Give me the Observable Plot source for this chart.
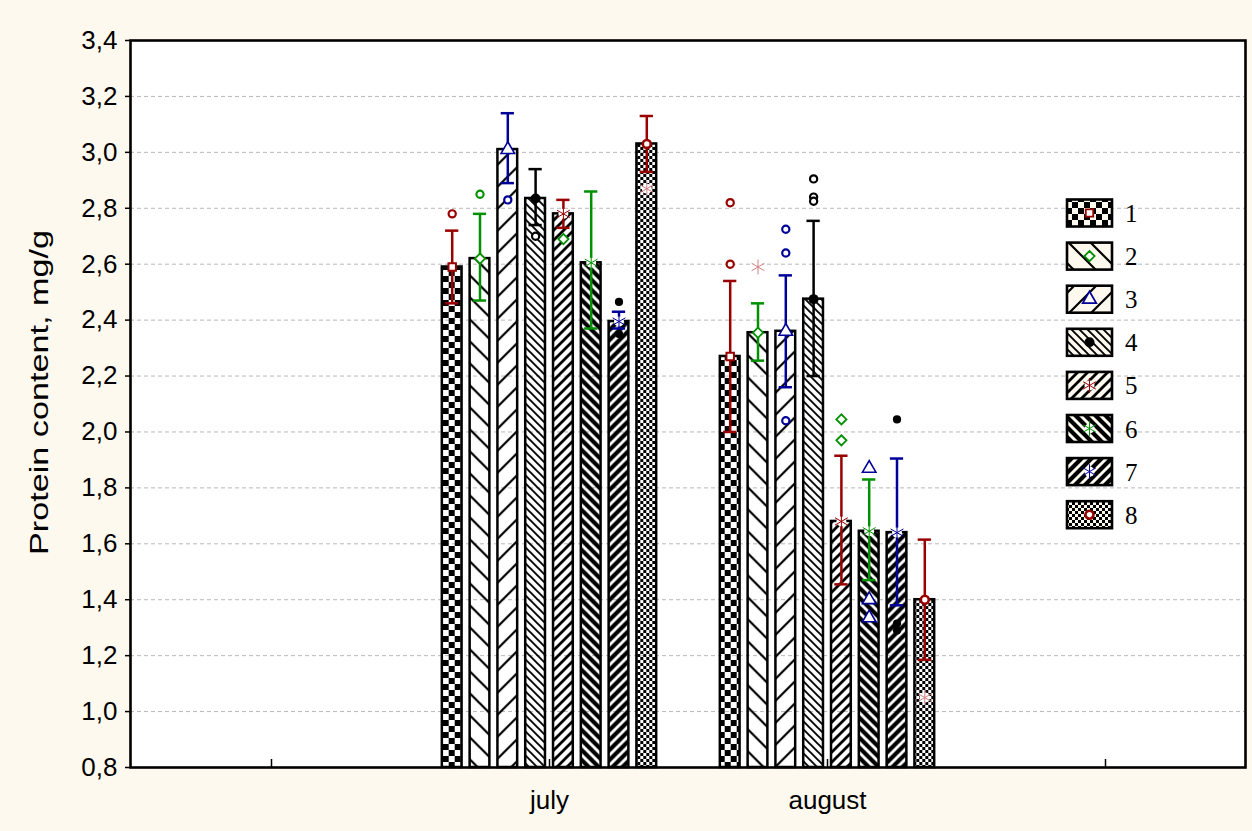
<!DOCTYPE html>
<html><head><meta charset="utf-8">
<script src="https://cdn.jsdelivr.net/npm/d3@7"></script>
<script src="https://cdn.jsdelivr.net/npm/@observablehq/plot@0.6"></script>
<style>
html,body{margin:0;padding:0;background:#fef9ee;}
#wrap{position:relative;width:1252px;height:831px;overflow:hidden;}
#wrap svg.plot{position:absolute;left:0;top:0;}
#legend{position:absolute;left:1060px;top:190px;}
</style></head><body>
<svg width="0" height="0" style="position:absolute">
<defs>
<pattern id="p1" patternUnits="userSpaceOnUse" width="12" height="12"><rect width="6" height="6" fill="#000"/><rect x="6" y="6" width="6" height="6" fill="#000"/></pattern>
<pattern id="p2" patternUnits="userSpaceOnUse" width="22" height="22"><path d="M0,0L22,22M-11,11L11,33M11,-11L33,11" stroke="#000" stroke-width="2.2"/></pattern>
<pattern id="p3" patternUnits="userSpaceOnUse" width="22" height="22"><path d="M0,22L22,0M-11,11L11,-11M11,33L33,11" stroke="#000" stroke-width="2.2"/></pattern>
<pattern id="p4" patternUnits="userSpaceOnUse" width="8" height="8"><path d="M0,0L8,8M-4,4L4,12M4,-4L12,4" stroke="#000" stroke-width="1.9"/></pattern>
<pattern id="p5" patternUnits="userSpaceOnUse" width="10" height="10"><path d="M0,10L10,0M-5,5L5,-5M5,15L15,5" stroke="#000" stroke-width="2.8"/></pattern>
<pattern id="p6" patternUnits="userSpaceOnUse" width="10" height="10"><path d="M0,0L10,10M-5,5L5,15M5,-5L15,5" stroke="#000" stroke-width="4.2"/></pattern>
<pattern id="p7" patternUnits="userSpaceOnUse" width="10" height="10"><path d="M0,10L10,0M-5,5L5,-5M5,15L15,5" stroke="#000" stroke-width="4.2"/></pattern>
<pattern id="p8" patternUnits="userSpaceOnUse" width="6" height="6"><rect width="3" height="3" fill="#000"/><rect x="3" y="3" width="3" height="3" fill="#000"/></pattern>
</defs></svg>
<div id="wrap"><div id="legend"></div></div>
<script>
// ---- data ----
const months = ["july", "august"];
const xCats = [" ", "july", "august", "  "];
const seriesNames = ["1", "2", "3", "4", "5", "6", "7", "8"];
const meansJuly = [2.59, 2.62, 3.01, 2.835, 2.78, 2.605, 2.395, 3.03];
const meansAug  = [2.27, 2.355, 2.36, 2.475, 1.68, 1.645, 1.64, 1.40];
const hiJuly = [2.72, 2.78, 3.14, 2.94, 2.83, 2.86, 2.43, 3.13];
const loJuly = [2.46, 2.47, 2.89, 2.74, 2.73, 2.37, 2.37, 2.93];
const hiAug  = [2.54, 2.46, 2.56, 2.755, 1.915, 1.83, 1.905, 1.615];
const loAug  = [2.00, 2.255, 2.16, 2.20, 1.455, 1.47, 1.38, 1.185];
const yTicks = [0.8, 1.0, 1.2, 1.4, 1.6, 1.8, 2.0, 2.2, 2.4, 2.6, 2.8, 3.0, 3.2, 3.4];
const yDomain = [0.8, 3.4];
const yLabel = "Protein content, mg/g";
// outliers: month, series index, value, kind
const outMonth  = ["july","july","july","july","july","july","july","july",
  "august","august","august","august","august","august","august","august","august","august","august","august","august","august","august","august","august","august"];
const outSeries = [0,1,2,3,4,6,6,7, 0,0,1,2,2,2,3,3,3,4,4,5,5,5,6,6,6,7];
const outValue  = [2.78,2.85,2.83,2.70,2.69,2.465,2.35,2.87,
  2.82,2.60,2.59,2.725,2.64,2.04,2.905,2.84,2.825,2.045,1.97,1.87,1.40,1.335,2.045,1.315,1.29,1.05];
const outKind   = ["circle","circle","circle","circle","diamond","filled","filled","star",
  "circle","circle","star","circle","circle","circle","circle","circle","circle","diamond","diamond","triangle","triangle","triangle","filled","filled","filled","star"];

// ---- styles ----
const RED = "#990000", GREEN = "#009000", NAVY = "#000099", BLACK = "#000000";
const seriesColor = [RED, GREEN, NAVY, BLACK, RED, GREEN, NAVY, RED];
const seriesSymbol = ["square", "diamond", "triangle", "filled", "star", "star", "star", "circle"];
const kindColor = {circle: null, diamond: GREEN, triangle: NAVY, filled: BLACK, star: "#d08080"};

const W = 1252, H = 831, ML = 130, MR = 7, MT = 40, MB = 64;
const band = (W - ML - MR) / xCats.length;
const pitch = 27.8, barW = 20.5, capW = 14;

const rows = [];
months.forEach((m, mi) => seriesNames.forEach((s, si) => rows.push({
  month: m, series: s, si,
  mean: (mi === 0 ? meansJuly : meansAug)[si],
  hi: (mi === 0 ? hiJuly : hiAug)[si],
  lo: (mi === 0 ? loJuly : loAug)[si]
})));
const outliers = outMonth.map((m, i) => ({month: m, si: outSeries[i], value: outValue[i], kind: outKind[i]}));

function symbolMarks(data, ycol, kind, color, dx, big) {
  const k = big ? 1 : 0.8;
  switch (kind) {
    case "square": return [Plot.dot(data, {x: "month", y: ycol, dx, symbol: "square", r: 4.2 * k, fill: "white", stroke: color, strokeWidth: 2})];
    case "diamond": return [Plot.dot(data, {x: "month", y: ycol, dx, symbol: "diamond2", r: 4.6, fill: "white", stroke: color, strokeWidth: 1.8})];
    case "triangle": return [Plot.dot(data, {x: "month", y: ycol, dx, symbol: "triangle", r: 5, fill: "white", stroke: color, strokeWidth: 1.6})];
    case "filled": return [Plot.dot(data, {x: "month", y: ycol, dx, symbol: "circle", r: 4.5 * k + 0.5, fill: BLACK, stroke: "none"})];
    case "circle": return [Plot.dot(data, {x: "month", y: ycol, dx, symbol: "circle", r: 3.6 * (big ? 1.1 : 1), fill: "white", stroke: color, strokeWidth: big ? 2.6 : 2.2})];
    case "star": return [
      Plot.dot(data, {x: "month", y: ycol, dx, symbol: "circle", r: 5, fill: "white", stroke: "none"}),
      Plot.dot(data, {x: "month", y: ycol, dx, symbol: "asterisk", r: 7, stroke: color, strokeWidth: 1})];
  }
  return [];
}

const marks = [
  Plot.frame({fill: "white", stroke: "none"}),
  Plot.gridY(yTicks.slice(1, -1), {stroke: "#b8b8b8", strokeOpacity: 1, strokeDasharray: "4,3", strokeWidth: 1}),
  Plot.axisX({ticks: xCats, tickSize: 8, dy: -8, tickFormat: () => "", label: null, strokeWidth: 1.5}),
];
seriesNames.forEach((s, si) => {
  const d = rows.filter(r => r.si === si);
  const dx = (si - 3.5) * pitch;
  marks.push(Plot.barY(d, {x: "month", y1: () => yDomain[0], y2: "mean", dx,
    fill: `url(#p${si + 1})`, stroke: "black", strokeWidth: 2.5,
    insetLeft: (band - barW) / 2, insetRight: (band - barW) / 2}));
});
seriesNames.forEach((s, si) => {
  const d = rows.filter(r => r.si === si);
  const dx = (si - 3.5) * pitch;
  const c = seriesColor[si];
  const ins = (band - capW) / 2;
  marks.push(Plot.ruleX(d, {x: "month", y1: "lo", y2: "hi", dx, stroke: c, strokeWidth: 2.5}));
  marks.push(Plot.tickY(d, {x: "month", y: "hi", dx, stroke: c, strokeWidth: 2.5, insetLeft: ins, insetRight: ins}));
  marks.push(Plot.tickY(d, {x: "month", y: "lo", dx, stroke: c, strokeWidth: 2.5, insetLeft: ins, insetRight: ins}));
  marks.push(...symbolMarks(d, "mean", seriesSymbol[si], c, dx, true));
  const o = outliers.filter(r => r.si === si);
  for (const kind of ["circle", "diamond", "triangle", "filled", "star"]) {
    const ok = o.filter(r => r.kind === kind);
    if (ok.length) marks.push(...symbolMarks(ok, "value", kind, kindColor[kind] || c, dx, false));
  }
});
marks.push(
  Plot.axisX({ticks: xCats, tickSize: 0, tickPadding: 23, tickFormat: d => d.trim(), fontSize: 26, label: null}),
  Plot.axisY({ticks: yTicks, tickSize: 5, tickPadding: 8, fontSize: 26, strokeWidth: 1.5,
    tickFormat: d => d.toFixed(1).replace(".", ","), label: null}),
  Plot.frame({stroke: "black", strokeWidth: 2.6})
);

const chart = Plot.plot({
  width: W, height: H,
  marginLeft: ML, marginRight: MR, marginTop: MT, marginBottom: MB,
  style: {background: "transparent", fontFamily: "'Liberation Sans', Arial, sans-serif", color: "black"},
  x: {type: "band", domain: xCats, padding: 0},
  y: {domain: yDomain},
  marks
});
chart.classList.add("plot");
document.getElementById("wrap").prepend(chart);

// y-axis title (stretched as in the original)
d3.select(chart).append("text")
  .attr("transform", "translate(48,392.5) rotate(-90)")
  .attr("text-anchor", "middle")
  .attr("font-family", "'Liberation Sans', Arial, sans-serif")
  .attr("font-size", 26)
  .attr("fill", "black")
  .attr("textLength", 325)
  .attr("lengthAdjust", "spacingAndGlyphs")
  .text(yLabel);

// ---- legend ----
const lg = d3.select("#legend").append("svg").attr("width", 90).attr("height", 345);
const sym = {square: d3.symbolSquare, diamond: d3.symbolDiamond2, triangle: d3.symbolTriangle, filled: d3.symbolCircle, circle: d3.symbolCircle, star: d3.symbolAsterisk};
seriesNames.forEach((s, i) => {
  const cy = 23 + i * 43.1;
  const g = lg.append("g");
  g.append("rect").attr("x", 7).attr("y", cy - 13.5).attr("width", 45).attr("height", 27).attr("fill", "#fef9ee");
  g.append("rect").attr("x", 7).attr("y", cy - 13.5).attr("width", 45).attr("height", 27)
    .attr("fill", `url(#p${i + 1})`).attr("stroke", "black").attr("stroke-width", 2.6);
  const kind = seriesSymbol[i], c = seriesColor[i];
  const cx = 29.5;
  if (kind === "star") {
    g.append("circle").attr("cx", cx).attr("cy", cy).attr("r", 5).attr("fill", "white");
    g.append("path").attr("transform", `translate(${cx},${cy})`).attr("d", d3.symbol(d3.symbolAsterisk, Math.PI * 49)()).attr("stroke", c).attr("fill", "none");
  } else {
    const r = kind === "filled" ? 5 : kind === "square" ? 4.2 : kind === "circle" ? 4 : kind === "diamond" ? 4.6 : 5;
    g.append("path").attr("transform", `translate(${cx},${cy})`).attr("d", d3.symbol(sym[kind], Math.PI * r * r)())
      .attr("fill", kind === "filled" ? "black" : "white").attr("stroke", kind === "filled" ? "none" : c)
      .attr("stroke-width", kind === "circle" ? 2.6 : 1.8);
  }
  g.append("text").attr("x", 65).attr("y", cy + 9).attr("font-family", "'Liberation Serif', 'Times New Roman', serif")
    .attr("font-size", 25).text(s);
});
</script>
</body></html>
